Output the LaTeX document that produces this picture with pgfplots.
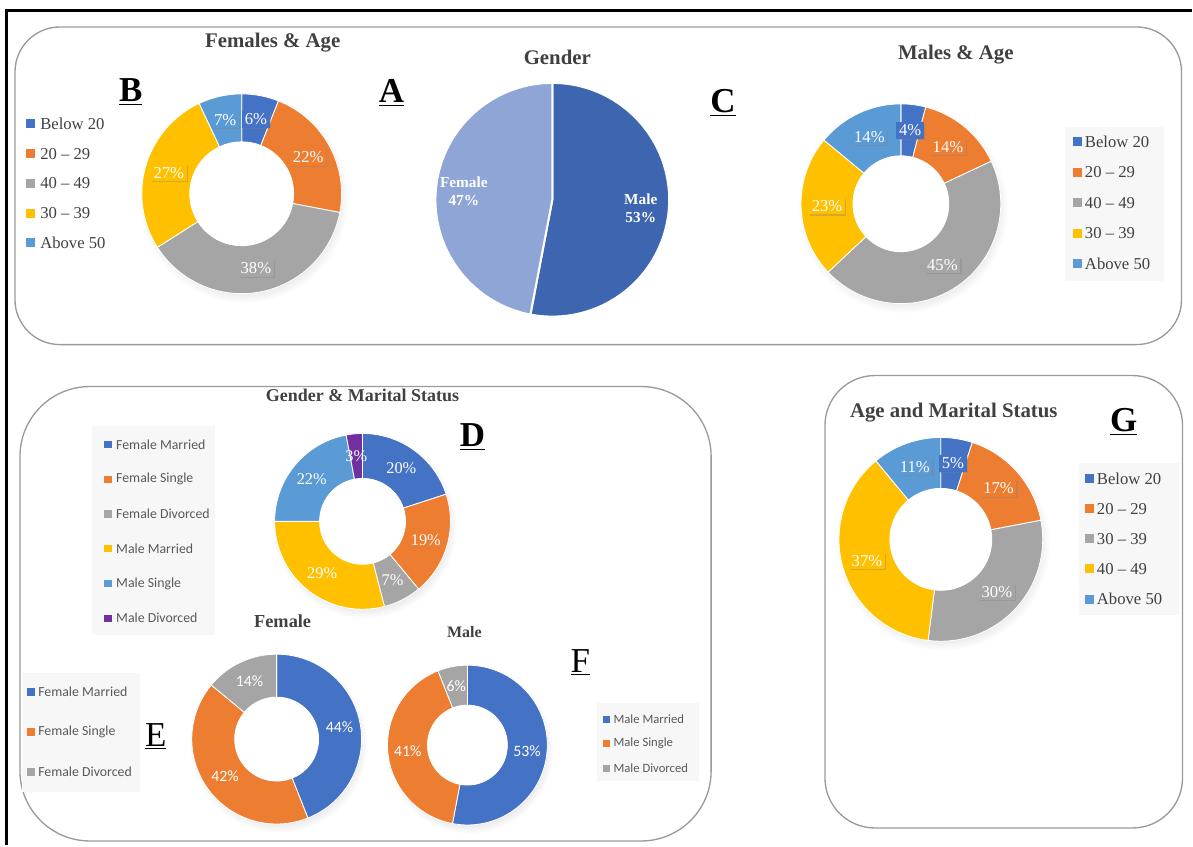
\documentclass[border=0pt]{standalone}
\usepackage{pgfplots}
\pgfplotsset{compat=1.18}
\usepackage{pgfplotstable}
\usetikzlibrary{shadows}
\usepackage{fontspec}
\setmainfont{Liberation Serif}
\newfontfamily\calibri{Carlito}

\definecolor{cBlue}{HTML}{4472C4}
\definecolor{cOrange}{HTML}{ED7D31}
\definecolor{cGray}{HTML}{A5A5A5}
\definecolor{cYellow}{HTML}{FFC000}
\definecolor{cLight}{HTML}{5B9BD5}
\definecolor{cPurple}{HTML}{7030A0}
\definecolor{cMale}{HTML}{3E65AF}
\definecolor{cFemale}{HTML}{8EA5D5}
\definecolor{boxline}{HTML}{9A9A9A}
\definecolor{titlegray}{HTML}{404040}
\definecolor{leggray}{HTML}{595959}
\definecolor{legbg}{HTML}{F7F7F7}

\pgfplotstableread[col sep=comma]{
label,value,color
Male,53,cMale
Female,47,cFemale
}\tabA
\pgfplotstableread[col sep=comma]{
label,value,color
Below 20,6,cBlue
20 -- 29,22,cOrange
40 -- 49,38,cGray
30 -- 39,27,cYellow
Above 50,7,cLight
}\tabB
\pgfplotstableread[col sep=comma]{
label,value,color
Below 20,4,cBlue
20 -- 29,14,cOrange
40 -- 49,45,cGray
30 -- 39,23,cYellow
Above 50,14,cLight
}\tabC
\pgfplotstableread[col sep=comma]{
label,value,color
Female Married,20,cBlue
Female Single,19,cOrange
Female Divorced,7,cGray
Male Married,29,cYellow
Male Single,22,cLight
Male Divorced,3,cPurple
}\tabD
\pgfplotstableread[col sep=comma]{
label,value,color
Female Married,44,cBlue
Female Single,42,cOrange
Female Divorced,14,cGray
}\tabE
\pgfplotstableread[col sep=comma]{
label,value,color
Male Married,53,cBlue
Male Single,41,cOrange
Male Divorced,6,cGray
}\tabF
\pgfplotstableread[col sep=comma]{
label,value,color
Below 20,5,cBlue
20 -- 29,17,cOrange
30 -- 39,30,cGray
40 -- 49,37,cYellow
Above 50,11,cLight
}\tabG

\newcommand\pxu{0.6}

% donut: #1 table, #2 cx, #3 cy, #4 R, #5 r, #6 label style, #7 label radius (px)
\newcommand\donut[7]{%
  \pgfplotstablegetrowsof{#1}%
  \pgfmathtruncatemacro\lastrow{\pgfplotsretval-1}%
  \pgfmathsetmacro\RRo{#4*\pxu}%
  \pgfmathsetmacro\RRi{#5*\pxu}%
  \pgfmathsetmacro\RRd{(#5-#4)*\pxu}%
  \pgfmathsetmacro\RRm{#7*\pxu}%
  \edef\temp{\noexpand\path[circular drop shadow={shadow xshift=1.2pt,shadow yshift=-2.6pt,opacity=0.22,shadow scale=1.05}]
     (axis cs:#2,#3) circle[radius=\RRo pt];}%
  \temp
  \def\cumval{0}%
  \pgfplotsforeachungrouped \ii in {0,...,\lastrow}{%
    \pgfplotstablegetelem{\ii}{value}\of{#1}\let\segval=\pgfplotsretval
    \pgfplotstablegetelem{\ii}{color}\of{#1}\let\segcol=\pgfplotsretval
    \pgfmathsetmacro\angA{90-3.6*\cumval}%
    \pgfmathsetmacro\cumval{\cumval+\segval}%
    \pgfmathsetmacro\angB{90-3.6*\cumval}%
    \edef\temp{\noexpand\fill[\segcol,draw=white,line width=0.5pt]
      (axis cs:#2,#3) ++(\angA:\RRo pt) arc[start angle=\angA,end angle=\angB,radius=\RRo pt]
      -- ++(\angB:\RRd pt) arc[start angle=\angB,end angle=\angA,radius=\RRi pt] -- cycle;}%
    \temp
  }%
  \edef\temp{\noexpand\fill[white] (axis cs:#2,#3) circle[radius=\RRi pt];}%
  \temp
  \def\cumval{0}%
  \pgfplotsforeachungrouped \ii in {0,...,\lastrow}{%
    \pgfplotstablegetelem{\ii}{value}\of{#1}\let\segval=\pgfplotsretval
    \pgfplotstablegetelem{\ii}{color}\of{#1}\let\segcol=\pgfplotsretval
    \pgfmathsetmacro\angA{90-3.6*\cumval}%
    \pgfmathsetmacro\cumval{\cumval+\segval}%
    \pgfmathsetmacro\angB{90-3.6*\cumval}%
    \pgfmathsetmacro\angM{(\angA+\angB)/2}%
    \edef\temp{\noexpand\path (axis cs:#2,#3) ++(\angM:\RRm pt)
      node[fill=\segcol,#6] {\segval\%};}%
    \temp
  }%
}

% pie: #1 table, #2 cx, #3 cy, #4 R, #5 label radius
\newcommand\pie[5]{%
  \pgfplotstablegetrowsof{#1}%
  \pgfmathtruncatemacro\lastrow{\pgfplotsretval-1}%
  \pgfmathsetmacro\RRo{#4*\pxu}%
  \pgfmathsetmacro\RRm{#5*\pxu}%
  \def\cumval{0}%
  \pgfplotsforeachungrouped \ii in {0,...,\lastrow}{%
    \pgfplotstablegetelem{\ii}{value}\of{#1}\let\segval=\pgfplotsretval
    \pgfplotstablegetelem{\ii}{color}\of{#1}\let\segcol=\pgfplotsretval
    \pgfplotstablegetelem{\ii}{label}\of{#1}\let\seglab=\pgfplotsretval
    \pgfmathsetmacro\angA{90-3.6*\cumval}%
    \pgfmathsetmacro\cumval{\cumval+\segval}%
    \pgfmathsetmacro\angB{90-3.6*\cumval}%
    \pgfmathsetmacro\angM{(\angA+\angB)/2}%
    \edef\temp{\noexpand\fill[\segcol,draw=white,line width=1.2pt,line join=round]
      (axis cs:#2,#3) -- ++(\angA:\RRo pt) arc[start angle=\angA,end angle=\angB,radius=\RRo pt] -- cycle;}%
    \temp
  }%
  \def\cumval{0}%
  \pgfplotsforeachungrouped \ii in {0,...,\lastrow}{%
    \pgfplotstablegetelem{\ii}{value}\of{#1}\let\segval=\pgfplotsretval
    \pgfplotstablegetelem{\ii}{label}\of{#1}\let\seglab=\pgfplotsretval
    \pgfmathsetmacro\angA{90-3.6*\cumval}%
    \pgfmathsetmacro\cumval{\cumval+\segval}%
    \pgfmathsetmacro\angB{90-3.6*\cumval}%
    \pgfmathsetmacro\angM{(\angA+\angB)/2}%
    \edef\temp{\noexpand\path (axis cs:#2,#3) ++(\angM:\RRm pt)
      node[pielbl] {\seglab\noexpand\\\segval\%};}%
    \temp
  }%
}

% legend: #1 table, #2 square x, #3 text x, #4 y0, #5 dy, #6 square size, #7 text style
\newcommand\legendlist[7]{%
  \pgfplotstablegetrowsof{#1}%
  \pgfmathtruncatemacro\lastrow{\pgfplotsretval-1}%
  \pgfplotsforeachungrouped \ii in {0,...,\lastrow}{%
    \pgfplotstablegetelem{\ii}{label}\of{#1}\let\seglab=\pgfplotsretval
    \pgfplotstablegetelem{\ii}{color}\of{#1}\let\segcol=\pgfplotsretval
    \pgfmathsetmacro\yy{#4+\ii*#5}%
    \edef\temp{\noexpand\node[fill=\segcol,minimum size=#6,inner sep=0pt] at (axis cs:#2,\yy) {};
      \noexpand\node[#7,anchor=west,inner sep=0pt] at (axis cs:#3,\yy) {\seglab};}%
    \temp
  }%
}

\tikzset{
  ttl/.style={font=\fontsize{12.5}{14}\selectfont\bfseries, text=titlegray},
  ttlsm/.style={font=\fontsize{10.8}{12}\selectfont\bfseries, text=titlegray},
  letter/.style={font=\fontsize{21}{22}\selectfont\bfseries, text=black, anchor=base, inner sep=0pt},
  letterr/.style={font=\fontsize{21}{22}\selectfont, text=black, anchor=base, inner sep=0pt},
  pbox/.style={font=\fontsize{10}{12}\selectfont, text=white, inner sep=1.6pt,
    drop shadow={shadow xshift=0.7pt,shadow yshift=-0.7pt,opacity=0.35}},
  pplain/.style={fill=none, font=\fontsize{9.8}{12}\selectfont, text=white, inner sep=0pt},
  psans/.style={fill=none, font=\calibri\fontsize{9.5}{12}\selectfont, text=white, inner sep=0pt},
  pielbl/.style={font=\fontsize{9.2}{10.5}\selectfont\bfseries, text=white, align=center, inner sep=0pt},
  legserif/.style={font=\fontsize{10}{12}\selectfont, text=titlegray},
  legsans/.style={font=\calibri\fontsize{8.3}{10}\selectfont, text=leggray},
  legsanssm/.style={font=\calibri\fontsize{7.6}{9}\selectfont, text=leggray},
  rbox/.style={draw=boxline, line width=0.8pt},
}

\begin{document}
\begin{tikzpicture}
\begin{axis}[
  x=0.6pt, y=0.6pt, y dir=reverse,
  xmin=0, xmax=1193, ymin=0, ymax=846,
  hide axis, clip=false, scale only axis,
]
\path (axis cs:0,0) rectangle (axis cs:1193,846);
% outer black frame
\draw[black, line width=1.8pt] (axis cs:7,846) -- (axis cs:7,11) -- (axis cs:1193,11);
% rounded panels
\draw[rbox, rounded corners=27pt] (axis cs:15,27) rectangle (axis cs:1183,345);
\draw[rbox, rounded corners=42pt] (axis cs:20,387) rectangle (axis cs:712,842);
\draw[rbox, rounded corners=30pt] (axis cs:826,376) rectangle (axis cs:1184,829);

% legend backgrounds
\fill[legbg] (axis cs:1066,127) rectangle (axis cs:1165,281);
\fill[legbg] (axis cs:1080,464) rectangle (axis cs:1180,616);
\fill[legbg] (axis cs:92,427) rectangle (axis cs:215,636);
\fill[legbg] (axis cs:22,674) rectangle (axis cs:140,793);
\fill[legbg] (axis cs:598,704) rectangle (axis cs:700,782);

% titles
\node[ttl] at (axis cs:273,43) {Females \& Age};
\node[ttl] at (axis cs:558,57) {Gender};
\node[ttl] at (axis cs:957,55) {Males \& Age};
\node[ttlsm] at (axis cs:363,396) {Gender \& Marital Status};
\node[ttl, font=\fontsize{11}{12}\selectfont\bfseries] at (axis cs:283,622) {Female};
\node[ttl, font=\fontsize{9.6}{11}\selectfont\bfseries] at (axis cs:465,633) {Male};
\node[ttl] at (axis cs:955,413) {Age and Marital Status};

% charts
\donut{\tabB}{242}{194}{100}{52}{pbox}{76}
\pie{\tabA}{553}{200}{117}{89}
\donut{\tabC}{902}{204}{100}{48}{pbox}{74}
\donut{\tabD}{363}{522}{88}{43}{pplain}{66}
\donut{\tabE}{277}{740}{85}{42}{psans}{64}
\donut{\tabF}{468}{746}{80}{40}{psans}{60}
\donut{\tabG}{942}{540}{102}{51}{pbox}{77}

% legends
\legendlist{\tabB}{30.5}{40}{124}{29.8}{5.4pt}{legserif}
\legendlist{\tabC}{1079}{1086}{142}{30.5}{5.4pt}{legserif}
\legendlist{\tabG}{1091}{1098}{479}{30.2}{5.4pt}{legserif}
\legendlist{\tabD}{108}{116}{445}{34.8}{4.4pt}{legsans}
\legendlist{\tabE}{31}{38}{693}{40}{4.4pt}{legsans}
\legendlist{\tabF}{607}{614}{720}{24.5}{4.2pt}{legsanssm}

% panel letters
\node[letter] at (axis cs:131,102) {\underline{B}};
\node[letter] at (axis cs:392,103) {\underline{A}};
\node[letter] at (axis cs:724,113) {\underline{C}};
\node[letter] at (axis cs:473,447) {\underline{D}};
\node[letterr] at (axis cs:156,747) {\underline{E}};
\node[letterr] at (axis cs:581,673) {\underline{F}};
\node[letter] at (axis cs:1125,432) {\underline{G}};
\end{axis}
\end{tikzpicture}
\end{document}
